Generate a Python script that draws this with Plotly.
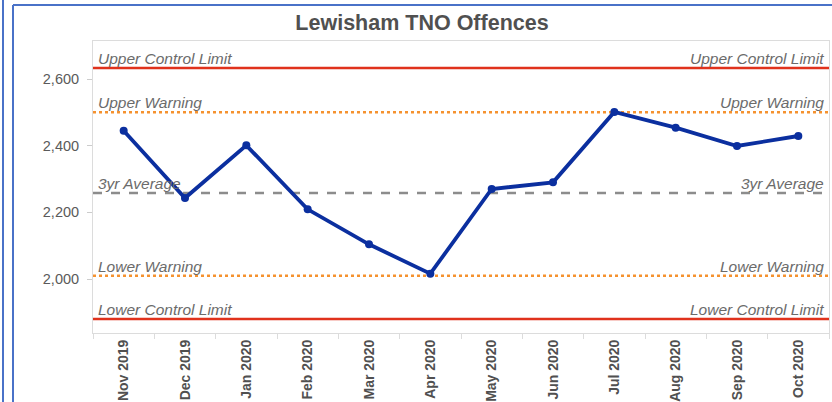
import plotly.graph_objects as go

months = ["Nov 2019", "Dec 2019", "Jan 2020", "Feb 2020", "Mar 2020", "Apr 2020",
          "May 2020", "Jun 2020", "Jul 2020", "Aug 2020", "Sep 2020", "Oct 2020"]
offences = [2445, 2243, 2401, 2209, 2104, 2016, 2270, 2290, 2501, 2454, 2399, 2429]

ref_names = ["Upper Control Limit", "Upper Warning", "3yr Average", "Lower Warning", "Lower Control Limit"]
ref_values = [2633, 2500, 2258, 2010, 1880]
ref_colors = ["#e0321c", "#f5922f", "#8c8c8c", "#f5922f", "#e0321c"]
ref_dashes = ["solid", "dot", "dash", "dot", "solid"]

y_ticks = [2000, 2200, 2400, 2600]
y_range = [1838, 2714]

W, H = 832, 402
L, R, T, B = 93, 3, 41, 69
PW, PH = W - L - R, H - T - B


def px(x):
    return (x - L) / PW


def py(y):
    return 1 - (y - T) / PH


fig = go.Figure()

shapes = []
annotations = []
for name, val, col, dash in zip(ref_names, ref_values, ref_colors, ref_dashes):
    shapes.append(dict(type="line", xref="paper", yref="y", x0=0, x1=1, y0=val, y1=val,
                       line=dict(color=col, width=2.5, dash=dash), layer="below"))
    for side in ("left", "right"):
        annotations.append(dict(
            text=name, xref="paper", yref="y", x=0 if side == "left" else 1, y=val,
            xanchor=side, yanchor="bottom", xshift=3 if side == "left" else -3, yshift=-1,
            showarrow=False,
            font=dict(family="Liberation Sans, Arial", size=15.5, color="#6b6b6b", style="italic"),
        ))

fig.add_trace(go.Scatter(
    x=months, y=offences, mode="lines+markers",
    line=dict(color="#0b2f9f", width=3.8),
    marker=dict(color="#0b2f9f", size=8),
    showlegend=False, hoverinfo="x+y",
))

# outer blue frame
blue = "#4a72c8"
shapes += [
    dict(type="line", xref="paper", yref="paper", x0=px(3), x1=px(3), y0=py(0), y1=py(402),
         line=dict(color=blue, width=2)),
    dict(type="line", xref="paper", yref="paper", x0=px(13), x1=px(13), y0=py(5), y1=py(402),
         line=dict(color=blue, width=2)),
    dict(type="line", xref="paper", yref="paper", x0=px(13), x1=px(832), y0=py(5), y1=py(5),
         line=dict(color=blue, width=2)),
]

fig.update_layout(
    width=W, height=H,
    margin=dict(l=L, r=R, t=T, b=B, autoexpand=False),
    paper_bgcolor="white", plot_bgcolor="white",
    title=dict(text="<b>Lewisham TNO Offences</b>", x=422 / W, xanchor="center",
               y=1 - 22 / H, yanchor="middle",
               font=dict(family="Liberation Sans, Arial", size=21.5, color="#505050")),
    xaxis=dict(
        type="category", range=[-0.5, len(months) - 0.5],
        showgrid=False, zeroline=False,
        showline=True, mirror=True, linecolor="#dcdcdc", linewidth=1,
        ticks="outside", tickson="boundaries", ticklen=5, tickcolor="#dcdcdc",
        tickangle=-90, automargin=False,
        tickfont=dict(family="Liberation Sans, Arial", size=14, color="#505050", weight="bold"),
    ),
    yaxis=dict(
        range=y_range, tickvals=y_ticks, tickformat=",d",
        showgrid=False, zeroline=False,
        showline=True, mirror=True, linecolor="#dcdcdc", linewidth=1,
        ticks="outside", ticklen=5, tickcolor="#cccccc", ticklabelstandoff=5,
        automargin=False,
        tickfont=dict(family="Liberation Sans, Arial", size=14.5, color="#5a5a5a"),
    ),
    shapes=shapes,
    annotations=annotations,
)

fig.write_html("out.html", config={"displayModeBar": False},
               post_script="document.body.style.margin='0';document.body.style.overflow='hidden';")
